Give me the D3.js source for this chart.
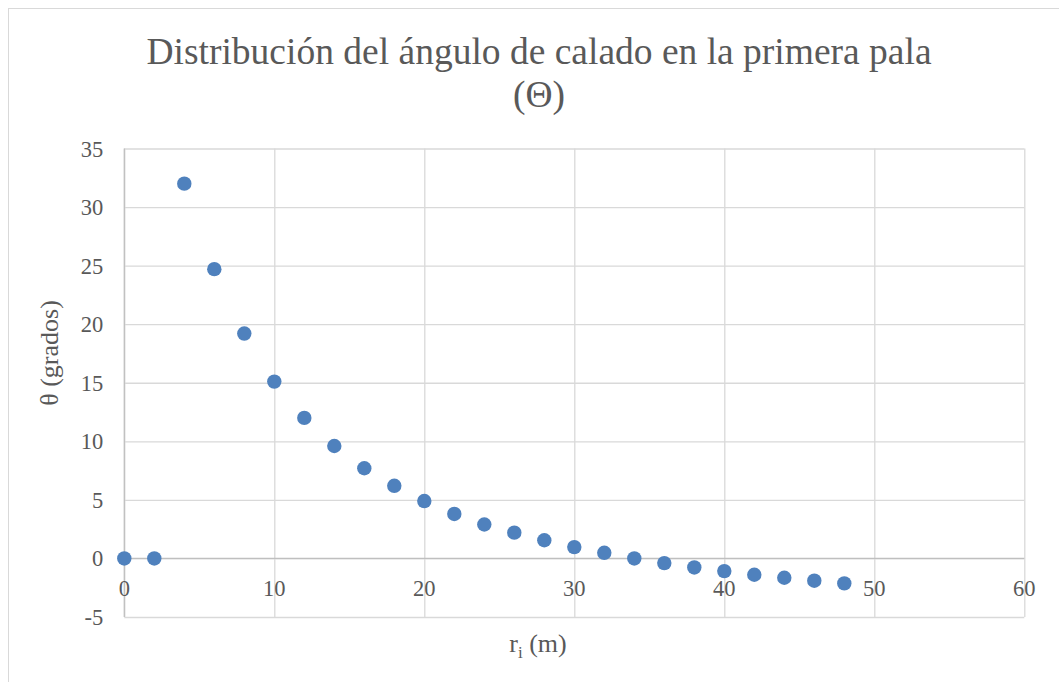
<!DOCTYPE html>
<html>
<head>
<meta charset="utf-8">
<script src="https://cdn.jsdelivr.net/npm/d3@7"></script>
<style>
  body { margin: 0; background: #fff; }
</style>
</head>
<body>
<div id="graph"></div>
<script>
// radio (m) y ángulo de calado (grados)
var radius = [0, 2, 4, 6, 8, 10, 12, 14, 16, 18, 20, 22, 24, 26, 28, 30, 32, 34, 36, 38, 40, 42, 44, 46, 48];
var theta = [0, 0, 32.0, 24.7, 19.2, 15.1, 12.0, 9.6, 7.7, 6.2, 4.9, 3.8, 2.9, 2.2, 1.55, 0.97, 0.48, 0, -0.4, -0.77, -1.08, -1.39, -1.65, -1.9, -2.13];
var xTicks = [0, 10, 20, 30, 40, 50, 60];
var yTicks = [-5, 0, 5, 10, 15, 20, 25, 30, 35];

var fontName = "'Liberation Serif', Tinos, 'Times New Roman', serif";
var w = 1059, h = 682;
var vis = d3.select("#graph").append("svg")
  .attr("width", w)
  .attr("height", h);

// marco del gráfico
vis.append("rect")
  .attr("x", 8.5).attr("y", 8.5)
  .attr("width", w + 20).attr("height", h + 20)
  .attr("fill", "none")
  .attr("stroke", "#d9d9d9");

var x = d3.scaleLinear().domain([0, 60]).range([124.3, 1024.3]);
var y = d3.scaleLinear().domain([-5, 35]).range([617, 148.5]);

// rejilla
vis.append("g")
  .attr("transform", "translate(0," + y(-5) + ")")
  .call(d3.axisBottom(x).tickValues(xTicks).tickSize(-(y(-5) - y(35))).tickFormat(""))
  .call(g => g.select(".domain").remove())
  .call(g => g.selectAll("line").attr("stroke", "#d9d9d9").attr("stroke-width", 1.3));

vis.append("g")
  .attr("transform", "translate(" + x(0) + ",0)")
  .call(d3.axisLeft(y).tickValues(yTicks).tickSize(-(x(60) - x(0))).tickFormat(""))
  .call(g => g.select(".domain").remove())
  .call(g => g.selectAll("line").attr("stroke", "#d9d9d9").attr("stroke-width", 1.3));

// ejes principales
vis.append("line")
  .attr("x1", x(0)).attr("x2", x(60))
  .attr("y1", y(0)).attr("y2", y(0))
  .attr("stroke", "#bfbfbf").attr("stroke-width", 1.3);
vis.append("line")
  .attr("x1", x(0)).attr("x2", x(0))
  .attr("y1", y(-5)).attr("y2", y(35))
  .attr("stroke", "#bfbfbf").attr("stroke-width", 1.3);

// etiquetas de ejes
vis.selectAll(".xlab")
  .data(xTicks)
  .enter()
  .append("text")
  .attr("class", "xlab")
  .attr("x", function(d) { return x(d); })
  .attr("y", y(0) + 37.5)
  .attr("text-anchor", "middle")
  .attr("font-size", 22.5)
  .text(function(d) { return d; });

vis.selectAll(".ylab")
  .data(yTicks)
  .enter()
  .append("text")
  .attr("class", "ylab")
  .attr("x", x(0) - 21)
  .attr("y", function(d) { return y(d) + 8; })
  .attr("text-anchor", "end")
  .attr("font-size", 22.5)
  .text(function(d) { return d; });

// puntos
vis.selectAll("circle.pt")
  .data(radius)
  .enter()
  .append("circle")
  .attr("class", "pt")
  .attr("cx", function(d) { return x(d); })
  .attr("cy", function(d, i) { return y(theta[i]); })
  .attr("r", 7.2)
  .attr("fill", "#4f81bd");

// títulos
vis.append("text")
  .attr("x", 539).attr("y", 63.5)
  .attr("text-anchor", "middle")
  .attr("font-size", 37.5)
  .text("Distribución del ángulo de calado en la primera pala");
vis.append("text")
  .attr("x", 539).attr("y", 106.5)
  .attr("text-anchor", "middle")
  .attr("font-size", 37.5)
  .text("(Θ)");

var xt = vis.append("text")
  .attr("x", 538).attr("y", 652)
  .attr("text-anchor", "middle")
  .attr("font-size", 26);
xt.append("tspan").text("r");
xt.append("tspan").attr("dy", 6).attr("font-size", 17).text("i");
xt.append("tspan").attr("dy", -6).text(" (m)");

vis.append("text")
  .attr("transform", "translate(58,353) rotate(-90)")
  .attr("text-anchor", "middle")
  .attr("font-size", 26)
  .text("θ (grados)");

vis.selectAll("text")
  .style("font-family", fontName)
  .attr("fill", "#595959");
</script>
</body>
</html>
